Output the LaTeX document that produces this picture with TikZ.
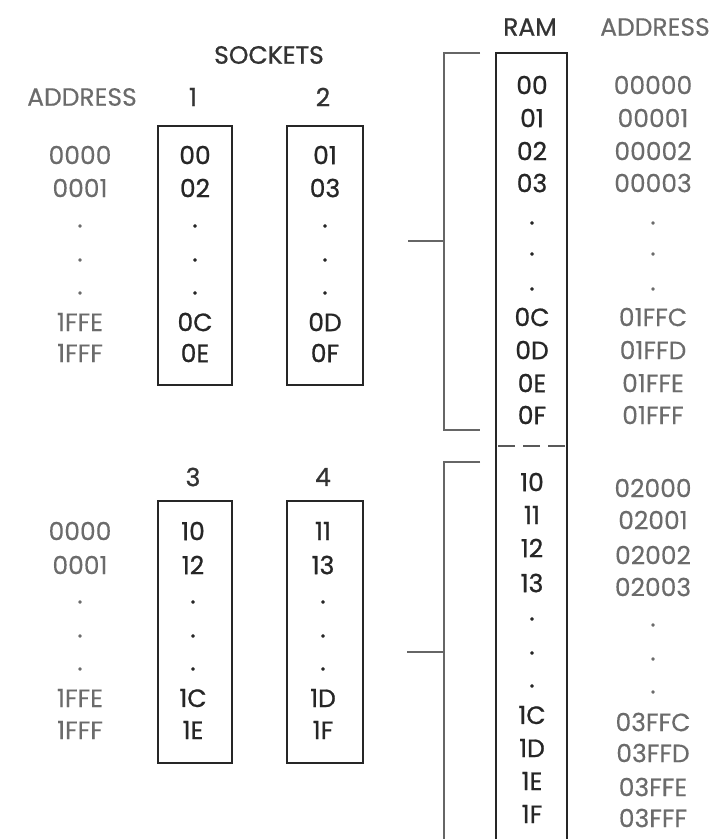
\documentclass[tikz,border=0pt]{standalone}
\usepackage{fontspec}
\setmainfont{Poppins}[FakeBold=0.8]
\newfontfamily\addrfont{Poppins}[FakeBold=0.2]
\begin{document}
\begin{tikzpicture}[x=1pt,y=-1pt,
  addr/.style={text=black!58,font=\addrfont\fontsize{25}{28}\selectfont,inner sep=0pt,anchor=center},
  val/.style={text=black!85,font=\fontsize{25}{28}\selectfont,inner sep=0pt,anchor=center},
  head/.style={text=black!80,font=\fontsize{25}{28}\selectfont,inner sep=0pt,anchor=center},
  chip/.style={draw=black!85,line width=2.4pt},
  brk/.style={draw=black!60,line width=1.6pt}]
\useasboundingbox (0,0) rectangle (722,839);
\fill[white] (0,0) rectangle (722,839);
% headings
\node[head] (sock) at (269,55) {SOCKETS};
\node[addr] (addrL) at (82,97) {ADDRESS};
\node[head] (s1) at (193,97) {1};
\node[head] (s2) at (323,97) {2};
\node[head] (s3) at (193,477) {3};
\node[head] (s4) at (323,477) {4};
\node[head] (ramh) at (530,27) {RAM};
\node[addr] (addrR) at (655,27) {ADDRESS};
% socket boxes
\draw[chip] (158,126) rectangle (232,385) node[pos=0.5] (b1) {};
\draw[chip] (287,126) rectangle (363,385) node[pos=0.5] (b2) {};
\draw[chip] (158,501) rectangle (232,763) node[pos=0.5] (b3) {};
\draw[chip] (287,501) rectangle (363,763) node[pos=0.5] (b4) {};
% left address column, upper
\foreach \t/\y [count=\i] in {0000/155,0001/188,./226,./260,./293,1FFE/322,1FFF/353}
  \node[addr] (la\i) at (80,\y) {\t};
\foreach \t/\y [count=\i] in {00/155,02/188,./226,./260,./293,0C/322,0E/353}
  \node[val] (v1\i) at (195,\y) {\t};
\foreach \t/\y [count=\i] in {01/155,03/188,./226,./260,./293,0D/322,0F/353}
  \node[val] (v2\i) at (325,\y) {\t};
% left address column, lower
\foreach \t/\y [count=\i] in {0000/531,0001/565,./602,./636,./669,1FFE/698,1FFF/730}
  \node[addr] (lb\i) at (80,\y) {\t};
\foreach \t/\y [count=\i] in {10/531,12/565,./602,./636,./669,1C/698,1E/730}
  \node[val] (v3\i) at (193,\y) {\t};
\foreach \t/\y [count=\i] in {11/531,13/565,./602,./636,./669,1D/698,1F/730}
  \node[val] (v4\i) at (323,\y) {\t};
% RAM column
\draw[chip] (496,839) -- (496,53) -- (567,53) -- (567,839);
\draw[black!65,line width=1.6pt,dash pattern=on 17pt off 8pt] (498,446) -- (566,446);
\foreach \t/\y [count=\i] in {00/85,01/118,02/151,03/183,./223,./254,./289,0C/317,0D/350,0E/383,0F/415,
  10/482,11/515,12/548,13/583,./619,./653,./686,1C/715,1D/748,1E/781,1F/814}
  \node[val] (r\i) at (532,\y) {\t};
\foreach \t/\y [count=\i] in {00000/85,00001/118,00002/151,00003/183,./223,./254,./289,01FFC/317,01FFD/350,01FFE/383,01FFF/415,
  02000/488,02001/520,02002/555,02003/587,./625,./659,./692,03FFC/722,03FFD/753,03FFE/787,03FFF/818}
  \node[addr] (ra\i) at (653,\y) {\t};
% brackets
\coordinate (t1a) at (480,53);
\coordinate (t1b) at (444,53);
\coordinate (t1c) at (444,430);
\coordinate (t1d) at (480,430);
\coordinate (m1) at (444,241);
\coordinate (m1e) at (408,241);
\draw[brk] (t1a) -- (t1b) -- (t1c) -- (t1d);
\draw[brk] (m1) -- (m1e);
\coordinate (t2a) at (480,462);
\coordinate (t2b) at (444,462);
\coordinate (t2c) at (444,839);
\coordinate (m2) at (444,652);
\coordinate (m2e) at (407,652);
\draw[brk] (t2a) -- (t2b) -- (t2c);
\draw[brk] (m2) -- (m2e);
\end{tikzpicture}
\end{document}
